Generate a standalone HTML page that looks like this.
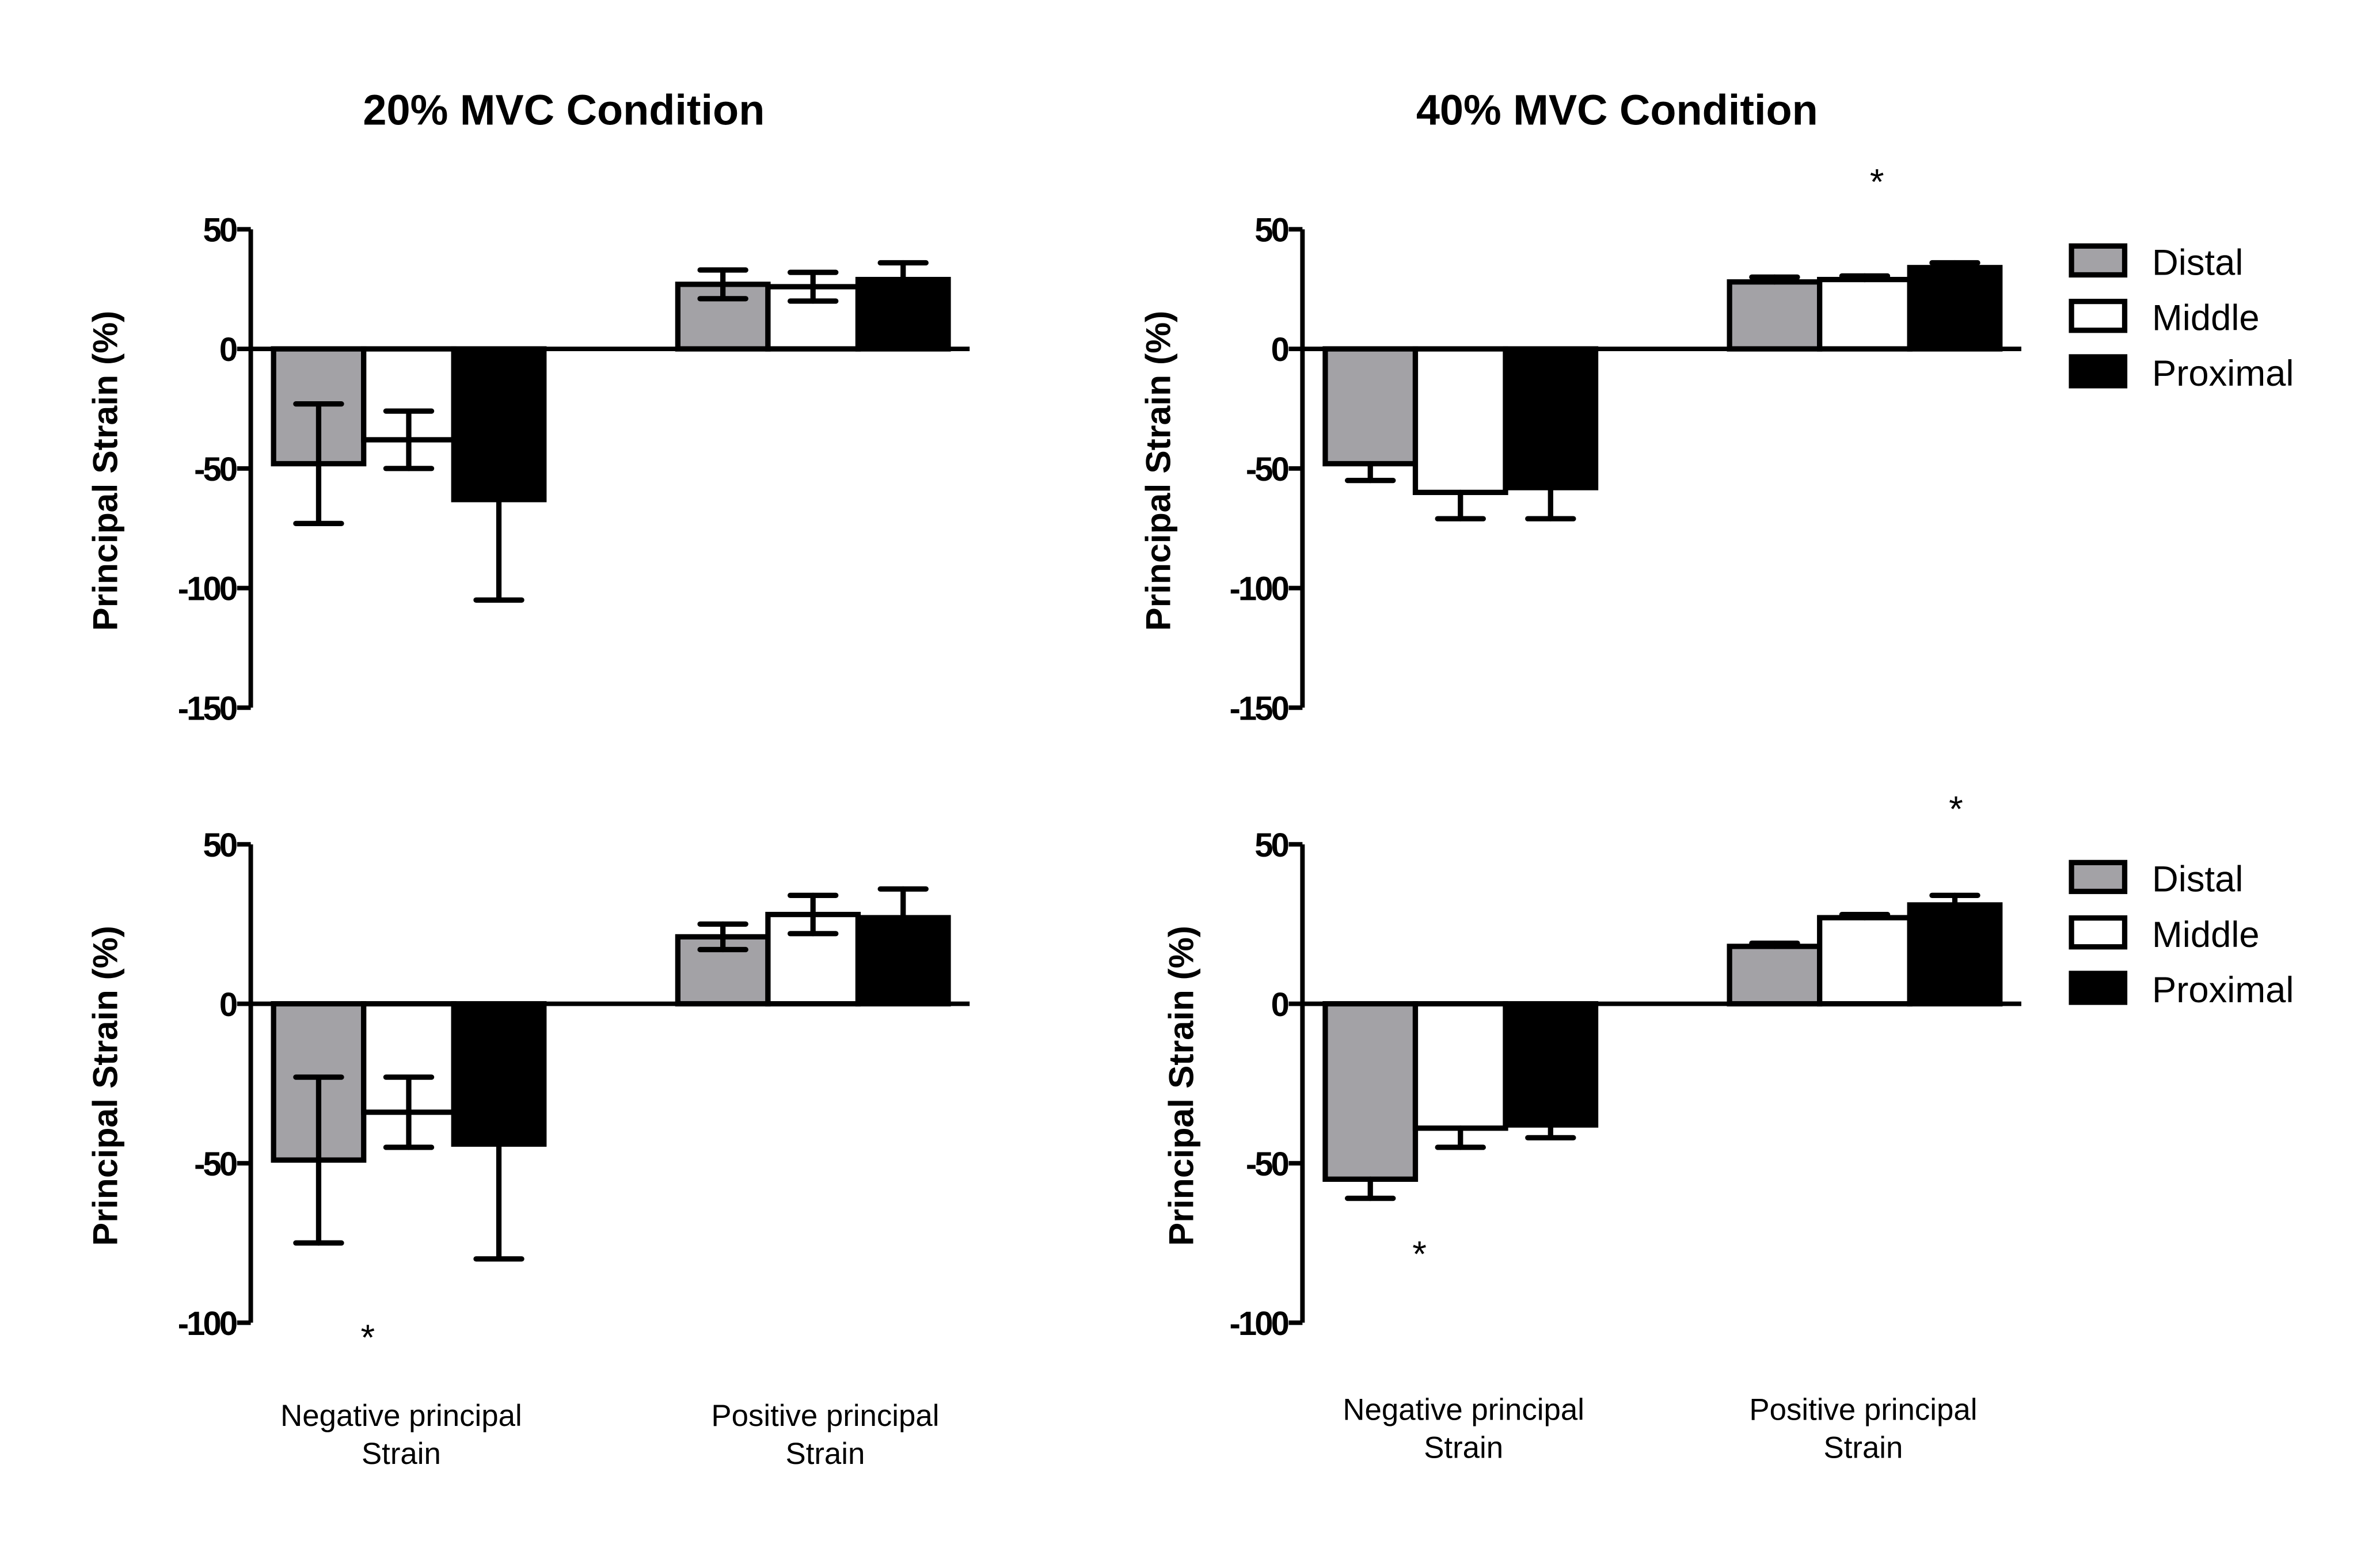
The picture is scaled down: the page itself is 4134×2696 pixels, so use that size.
<!DOCTYPE html>
<html><head><meta charset="utf-8"><style>html,body{margin:0;padding:0;background:#fff}svg{display:block}</style></head>
<body>
<svg id="fig" width="4134" height="2696" viewBox="0 0 1566 1022" preserveAspectRatio="none" xmlns="http://www.w3.org/2000/svg" font-family="Liberation Sans, sans-serif">
<text x="371" y="82" text-anchor="middle" font-weight="bold" font-size="28">20% MVC Condition</text>
<text x="1064" y="82" text-anchor="middle" font-weight="bold" font-size="28">40% MVC Condition</text>
</svg>
<script>
const series = ['Distal','Middle','Proximal'];
const fills = ['#a3a2a6','#ffffff','#000000'];
const groups = ['Negative principal','Positive principal'];
const tl_values = [[-48,-38,-63],[27,26,29]];
const tl_errors = [[25,12,42],[6,6,7]];
const tr_values = [[-48,-60,-58],[28,29,34]];
const tr_errors = [[7,11,13],[2,1.5,2]];
const bl_values = [[-49,-34,-44],[21,28,27]];
const bl_errors = [[26,11,36],[4,6,9]];
const br_values = [[-55,-39,-38],[18,27,31]];
const br_errors = [[6,6,4],[1,1,3]];
const topTicks = [50,0,-50,-100,-150];
const botTicks = [50,0,-50,-100];
const NS='http://www.w3.org/2000/svg';
const svg=document.getElementById('fig');
function mk(tag,attrs,parent){const e=document.createElementNS(NS,tag);for(const k in attrs)e.setAttribute(k,attrs[k]);(parent||svg).appendChild(e);return e;}
function panel(p){
  const g=mk('g',{});
  
  
  const y=v=>p.y0+(p.y1-p.y0)*(v-p.vmax)/(p.vmin-p.vmax);
  const yz=y(0);
  const gx=[p.ax+15,p.ax+281];
  const bw=59.3;
  p.values.forEach((grp,gi)=>{grp.forEach((v,si)=>{
    const x=gx[gi]+si*bw;
    const r=mk('rect',{x:x,y:Math.min(y(v),yz),width:bw,height:Math.abs(y(v)-yz),fill:fills[si],stroke:'#000','stroke-width':3.5},g);
    
    
    const e=p.errors[gi][si];const cx=x+bw/2;
    const sign=v<0?-1:1;
    const outer=v+sign*e;
    let inner=p.both?v-sign*e:v;
    const eb=mk('g',{stroke:'#000','stroke-width':3.5,'stroke-linecap':'round'},g);
    
    
    mk('line',{x1:cx,x2:cx,y1:y(inner),y2:y(outer)},eb);
    mk('line',{x1:cx-15,x2:cx+15,y1:y(outer),y2:y(outer)},eb);
    if(p.both)mk('line',{x1:cx-15,x2:cx+15,y1:y(inner),y2:y(inner)},eb);
  });});
  const ya=mk('line',{x1:p.ax,x2:p.ax,y1:p.y0,y2:p.y1,stroke:'#000','stroke-width':3},g);
  
  
  const zl=mk('line',{x1:p.ax,x2:p.ax+473,y1:yz,y2:yz,stroke:'#000','stroke-width':3},g);
  
  
  p.ticks.forEach(t=>{
    mk('line',{x1:p.ax-9,x2:p.ax,y1:y(t),y2:y(t),stroke:'#000','stroke-width':3},g);
    const tx=mk('text',{x:p.ax-10,y:y(t)+8,'text-anchor':'end','font-weight':'bold','font-size':22,'letter-spacing':'-1.5'},g);
    tx.textContent=t;
    
    
  });
  const yt=mk('text',{x:0,y:0,transform:`translate(${p.tx},${p.ty}) rotate(-90)`,'text-anchor':'middle','font-weight':'bold','font-size':23},g);
  yt.textContent='Principal Strain (%)';
  
  
  (p.stars||[]).forEach(s=>{
    const st=mk('text',{x:s[0],y:s[1]+12,'text-anchor':'middle','font-size':24},g);
    st.textContent='*';
    
    
  });
  if(p.labels){
    groups.forEach((lab,gi)=>{
      const cx=p.labels[gi];
      const t1=mk('text',{x:cx,y:p.ly,'text-anchor':'middle','font-size':20},g);t1.textContent=lab;
      
      
      const t2=mk('text',{x:cx,y:p.ly+25,'text-anchor':'middle','font-size':20},g);t2.textContent='Strain';
      
      
    });
  }
  if(p.legend){
    series.forEach((s,i)=>{
      const ly=p.legend+i*36.5;
      const lr=mk('rect',{x:1363,y:ly,width:35,height:19,fill:fills[i],stroke:'#000','stroke-width':3.5},g);
      
      
      const lt=mk('text',{x:1416,y:ly+19,'font-size':24},g);lt.textContent=s;
      
      
    });
  }
}
panel({name:'panel-20-top',ax:165,y0:151,y1:466,vmax:50,vmin:-150,ticks:topTicks,values:tl_values,errors:tl_errors,both:true,tx:77,ty:310});
panel({name:'panel-40-top',ax:857,y0:151,y1:466,vmax:50,vmin:-150,ticks:topTicks,values:tr_values,errors:tr_errors,both:false,tx:770,ty:310,stars:[[1235,116]],legend:162});
panel({name:'panel-20-bottom',ax:165,y0:556,y1:871,vmax:50,vmin:-100,ticks:botTicks,values:bl_values,errors:bl_errors,both:true,tx:77,ty:715,stars:[[242,877]],labels:[264,543],ly:939});
panel({name:'panel-40-bottom',ax:857,y0:556,y1:871,vmax:50,vmin:-100,ticks:botTicks,values:br_values,errors:br_errors,both:false,tx:785,ty:715,stars:[[934,822],[1287,529]],labels:[963,1226],ly:935,legend:568});
</script>
</body></html>
